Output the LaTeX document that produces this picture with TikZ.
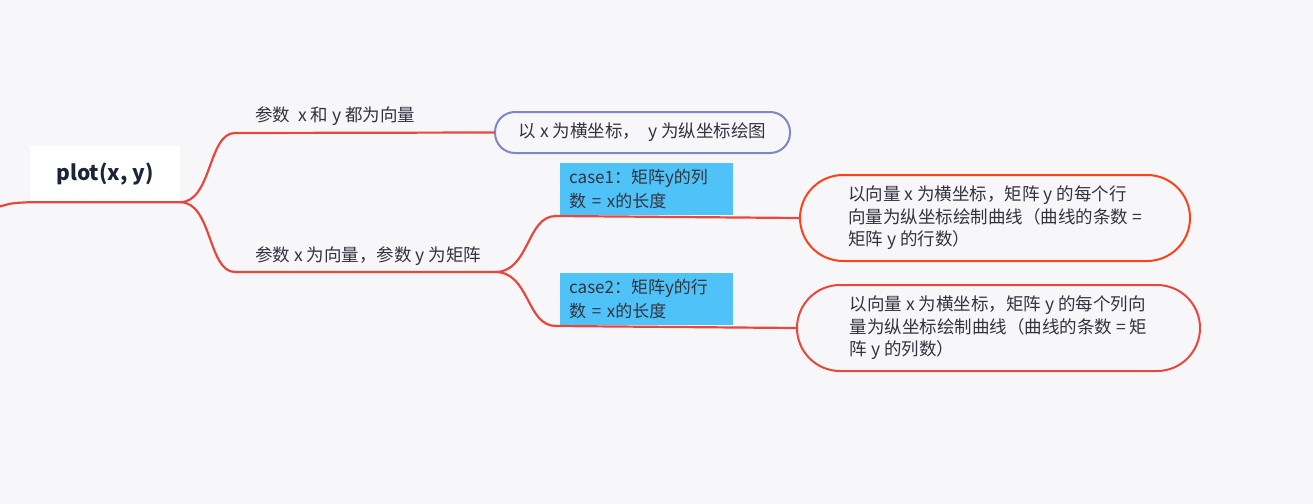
\documentclass[tikz,border=0pt]{standalone}
\usepackage{fontspec}
\setmainfont{Noto Sans CJK SC}
\usepackage{tikz}
\usetikzlibrary{
  positioning,
  calc,
  backgrounds
}
\usepackage{xcolor}
\definecolor{mmBack}{HTML}{F7F7FA}
\definecolor{mmRed}{HTML}{E8473E}
\definecolor{mmOrange}{HTML}{FF4119}
\definecolor{mmPurple}{HTML}{7E88C8}
\definecolor{mmCyan}{HTML}{4FC3F7}
\definecolor{mmText}{HTML}{333340}
\definecolor{mmNavy}{HTML}{1B2538}
\tikzset{
  % Central topic
  rootnode/.style={
    rectangle,
    fill=white,
    minimum width=150pt,
    minimum height=56pt,
    font=\fontsize{21}{24}\selectfont\bfseries,
    text=mmNavy
  },
  % Text over a branch line
  branchlabel/.style={
    font=\fontsize{17.5}{21}\selectfont,
    text=mmText,
    inner sep=0pt
  },
  % Case label (filled box)
  casenode/.style={
    rectangle,
    fill=mmCyan,
    text width=155pt,
    inner xsep=9pt,
    minimum height=52pt,
    align=left,
    font=\fontsize{17}{23.5}\selectfont,
    text=mmText
  },
  % Pill-shaped result node
  pillnode/.style={
    rectangle,
    draw=mmRed,
    fill=mmBack,
    line width=2pt,
    align=left,
    font=\fontsize{17.5}{22.5}\selectfont,
    text=mmText
  },
  % Mind-map branch
  branch/.style={
    draw=mmRed,
    line width=2.2pt,
    line cap=round
  }
}

\begin{document}
\begin{tikzpicture}[x=1pt, y=-1pt]

%% === Background ===
\useasboundingbox (0,0) rectangle (1313,503);
\fill[mmBack] (-3,-3) rectangle (1316,506);

%% === Central topic ===
\node[rootnode] (root) at (105,174) {plot(x, y)};
\coordinate (edge) at (-2,207);

%% === Branch points ===
\coordinate (jvec) at (235,133);
\coordinate (jmat) at (235,272);
\coordinate (jfork) at (495,272);
\coordinate (jcase1) at (556,216);
\coordinate (jcase2) at (556,326);

%% === Leaf nodes ===
\node[pillnode, draw=mmPurple, rounded corners=20pt,
      minimum width=295pt, minimum height=41pt] (vecplot) at (642.5,132.5)
  {以 x 为横坐标，~ y 为纵坐标绘图};

\node[pillnode, draw=mmOrange, rounded corners=43pt,
      minimum width=390pt, minimum height=86pt] (rowplot) at (995,218)
  {以向量 x 为横坐标，矩阵 y 的每个行\\向量为纵坐标绘制曲线（曲线的条数 =\\矩阵 y 的行数）};

\node[pillnode, rounded corners=43pt,
      minimum width=403pt, minimum height=86pt] (colplot) at (998.5,328)
  {以向量 x 为横坐标，矩阵 y 的每个列向\\量为纵坐标绘制曲线（曲线的条数 = 矩\\阵 y 的列数）};

%% === Case labels ===
\node[casenode, anchor=south west] (case1) at (560,215)
  {case1：矩阵y的列\\数 = x的长度};
\node[casenode, anchor=south west] (case2) at (560,325)
  {case2：矩阵y的行\\数 = x的长度};

%% === Branch labels ===
\node[branchlabel, anchor=base west] (lblvec) at (255,121) {参数~ x 和 y 都为向量};
\node[branchlabel, anchor=base west] (lblmat) at (255,261) {参数 x 为向量，参数 y 为矩阵};

%% === Branches ===
\draw[branch] (edge) .. controls (12,203) .. (root.south west) -- (root.south east);
\draw[branch] (root.south east) .. controls (212,202) and (208,133) .. (jvec) -- (vecplot.west);
\draw[branch] (root.south east) .. controls (212,202) and (208,272) .. (jmat) -- (jfork);
\draw[branch] (jfork) .. controls (530,272) and (526,216) .. (jcase1) -- (rowplot.west);
\draw[branch] (jfork) .. controls (530,272) and (526,326) .. (jcase2) -- (colplot.west);

\end{tikzpicture}
\end{document}
